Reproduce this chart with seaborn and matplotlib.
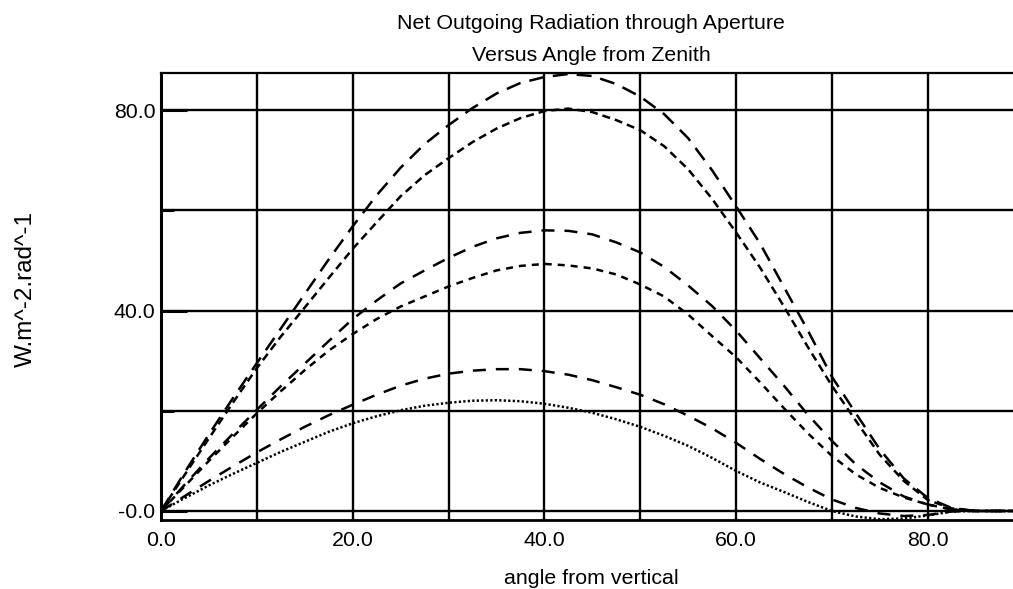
import matplotlib
matplotlib.use("Agg")
import matplotlib.pyplot as plt
import pandas as pd
import seaborn as sns

# Angle from zenith (degrees) at which each curve is sampled
angle = [0, 2.5, 5, 7.5, 10, 12.5, 15, 17.5, 20, 22.5, 25, 27.5, 30, 32.5, 35,
         37.5, 40, 42.5, 45, 47.5, 50, 52.5, 55, 57.5, 60, 62.5, 65, 67.5, 70,
         72.5, 75, 77.5, 80, 82.5, 85, 87.5, 90]

# Net outgoing radiation (W m^-2 rad^-1) for the six cases
flux_a = [0, 7.8, 15.3, 22.5, 29.5, 36.4, 43.3, 50.2, 56.8, 63, 68.5, 73.2, 77, 80.4, 83.3,
          85.4, 86.6, 87.2, 86.8, 85.2, 82.7, 79.2, 74.4, 68, 60.8, 53.4, 44.7, 36, 26.8,
          19.5, 12.3, 6.5, 2.6, 0.6, 0, 0, 0]
flux_b = [0, 7.3, 14.5, 21.6, 28.5, 34.8, 40.6, 46.5, 52.3, 57.6, 62.8, 67, 70.4, 73.6, 76.3,
          78.4, 79.8, 80.3, 79.6, 78, 76, 72.8, 68.2, 62.3, 55.6, 48.6, 40.8, 32.7, 25,
          18, 11.2, 6, 2.2, 0.5, 0, 0, 0]
flux_c = [0, 5.3, 10.5, 15.4, 20.2, 24.9, 29.4, 33.9, 38.3, 42, 45.4, 48, 50.5, 52.7, 54.4,
          55.5, 56, 55.9, 55.2, 53.6, 51.6, 48.7, 45, 40.9, 36, 30.5, 25, 19.2, 14,
          9.3, 5.7, 2.9, 1.3, 0.3, 0, 0, 0]
flux_d = [0, 5, 10, 14.8, 19.5, 23.9, 28.1, 32, 35.3, 38.3, 40.8, 42.8, 44.8, 46.5, 48,
          48.9, 49.3, 49, 48.4, 47.2, 45.2, 42.8, 39.2, 34.9, 30.7, 25.7, 20.5, 15.5, 11,
          7.3, 4.6, 2.7, 1.3, 0.3, 0, 0, 0]
flux_e = [0, 3, 6, 8.9, 11.7, 14.3, 16.8, 19.1, 21.2, 23.2, 25, 26.4, 27.4, 28, 28.3,
          28.3, 27.9, 27.2, 26.1, 24.7, 23.2, 21.3, 19, 16.5, 13.6, 10.4, 7.4, 4.7, 2.3,
          0.6, -0.5, -1.0, -0.8, -0.1, 0, 0, 0]
flux_f = [0, 2.6, 5.1, 7.4, 9.6, 11.8, 13.8, 15.8, 17.5, 18.9, 20.1, 21, 21.6, 22, 22.1,
          21.9, 21.4, 20.6, 19.6, 18.3, 16.8, 15, 13, 10.6, 8, 5.7, 3.8, 1.8, 0,
          -1.1, -1.65, -1.5, -0.9, -0.1, 0, 0, 0]

curve_names = ["a", "b", "c", "d", "e", "f"]

# Axis ticks and their labels
x_major = [0, 20, 40, 60, 80]
x_major_labels = ["0.0", "20.0", "40.0", "60.0", "80.0"]
x_minor = [10, 30, 50, 70]
y_major = [0, 40, 80]
y_major_labels = ["-0.0", "40.0", "80.0"]
y_minor = [20, 60]

title_line1 = "Net Outgoing Radiation through Aperture"
title_line2 = "Versus Angle from Zenith"
x_label = "angle from vertical"
y_label = "W.m^-2.rad^-1"

sns.set_theme(style="white")
plt.rcParams["font.family"] = ["Liberation Sans", "DejaVu Sans"]

wide = pd.DataFrame({"angle": angle, "a": flux_a, "b": flux_b, "c": flux_c,
                     "d": flux_d, "e": flux_e, "f": flux_f})
long = wide.melt(id_vars="angle", value_vars=curve_names,
                 var_name="curve", value_name="flux")

# dash patterns (on, off) in units of line width
dash_styles = {
    "a": (6.0, 3.6),
    "b": (3.2, 2.0),
    "c": (5.2, 4.0),
    "d": (2.8, 2.4),
    "e": (5.2, 4.0),
    "f": (0.9, 0.9),
}

text_size = 15.4

fig = plt.figure(figsize=(10.13, 5.89), dpi=100)
ax = fig.add_axes([161 / 1013, 1 - 520 / 589, 852 / 1013, 447 / 589])

sns.lineplot(data=long, x="angle", y="flux", style="curve", style_order=curve_names,
             dashes=dash_styles, color="black", linewidth=1.8, legend=False,
             estimator=None, ax=ax)

ax.set_xlim(0, 88.9)
ax.set_ylim(-1.8, 87.4)

ax.set_xticks(x_major)
ax.set_xticklabels(x_major_labels)
ax.set_xticks(x_minor, minor=True)
ax.set_yticks(y_major)
ax.set_yticklabels(y_major_labels)
ax.set_yticks(y_minor, minor=True)

ax.set_axisbelow(True)
ax.grid(which="both", color="black", linewidth=1.7)

for side in ("left", "bottom", "top"):
    ax.spines[side].set_visible(True)
    ax.spines[side].set_color("black")
ax.spines["left"].set_linewidth(2.2)
ax.spines["bottom"].set_linewidth(2.0)
ax.spines["top"].set_linewidth(1.6)
ax.spines["right"].set_visible(False)

ax.tick_params(axis="y", which="major", direction="in", length=19, width=2.2,
               color="black", pad=4, labelsize=text_size, labelcolor="black", left=True)
ax.tick_params(axis="y", which="minor", direction="in", length=9.5, width=2.2,
               color="black", left=True)
ax.tick_params(axis="x", which="both", direction="in", length=0, pad=8,
               labelsize=text_size, labelcolor="black")

ax.set_xlabel(x_label, fontsize=text_size, color="black")
ax.xaxis.set_label_coords(0.505, -0.110)
ax.set_ylabel(y_label, fontsize=17.5, color="black")
ax.yaxis.set_label_coords(-0.1455, 0.517)

fig.text(591 / 1013, 1 - 29.3 / 589, title_line1, ha="center", va="baseline",
         fontsize=text_size, color="black")
fig.text(591 / 1013, 1 - 60.7 / 589, title_line2, ha="center", va="baseline",
         fontsize=text_size, color="black")

fig.savefig("out.png", dpi=100, facecolor="white")
